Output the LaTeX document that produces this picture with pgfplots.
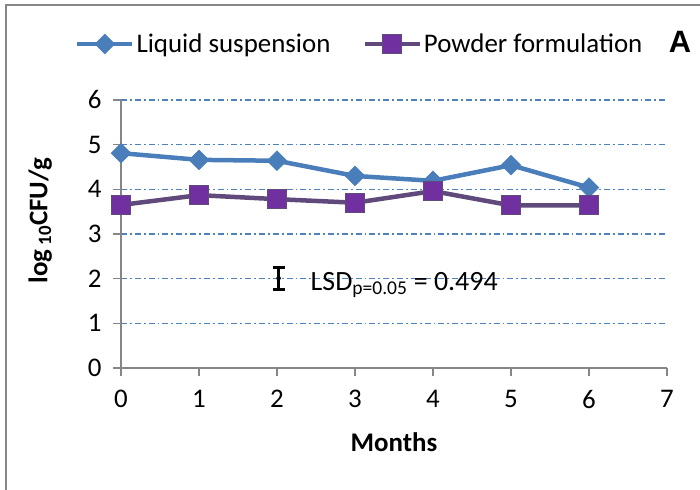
\documentclass[border=0pt]{standalone}
\usepackage{pgfplots}
\pgfplotsset{compat=1.18}
\usepackage{fontspec}
\setmainfont{Carlito}
\newfontfamily\arialfont{Liberation Sans}
\definecolor{lsblue}{HTML}{4A7EBB}
\definecolor{pwline}{HTML}{604A7B}
\definecolor{pwfill}{HTML}{7030A0}
\definecolor{axgray}{HTML}{868686}
\definecolor{gridblue}{HTML}{4F81BD}

\begin{document}
\begin{tikzpicture}
\useasboundingbox (-121bp,-122bp) rectangle (579bp,368bp);
\begin{axis}[
  scale only axis,
  width=546bp, height=268bp,
  xmin=0, xmax=7, ymin=0, ymax=6,
  xtick={0,...,7}, ytick={0,...,6},
  axis lines=left,
  axis line style={-, axgray, line width=1.5bp},
  tick style={axgray, line width=1.5bp},
  tick align=outside,
  major tick length=8bp,
  ymajorgrids,
  grid style={gridblue, line width=1.5bp, dash pattern=on 6bp off 3bp on 1.8bp off 3bp},
  /pgf/number format/assume math mode=true,
  ticklabel style={font=\fontsize{27}{30}\selectfont},
  xticklabel style={yshift=-11bp},
  yticklabel style={xshift=-8bp},
  xlabel={Months},
  ylabel={log\,\textsubscript{10}CFU/g},
  label style={font=\fontsize{27}{30}\selectfont\bfseries},
  xlabel style={at={(axis description cs:0.5,-0.31)}, anchor=base},
  ylabel style={at={(axis description cs:-0.148,0.55)}, anchor=center},
  clip=false,
  legend columns=2,
  legend style={draw=none, fill=none, font=\fontsize{27}{30}\selectfont,
    at={(axis description cs:-0.09,1.209)}, anchor=west,
    /tikz/every even column/.append style={column sep=30bp}},
  legend image code/.code={%
    \draw[mark repeat=2,mark phase=2] plot coordinates {(0bp,0bp) (27.5bp,0bp) (55bp,0bp)};},
]
\addplot[lsblue, line width=4.5bp, mark=square*, mark size=7bp,
  mark options={rotate=45, fill=lsblue, draw=lsblue, line width=0.5bp}]
  coordinates {(0,4.81) (1,4.66) (2,4.64) (3,4.30) (4,4.19) (5,4.54) (6,4.04)};
\addlegendentry{Liquid suspension}
\addplot[pwline, line width=4.5bp, mark=square*, mark size=9.5bp,
  mark options={fill=pwfill, draw=pwline, line width=1bp}]
  coordinates {(0,3.65) (1,3.87) (2,3.78) (3,3.70) (4,3.96) (5,3.64) (6,3.64)};
\addlegendentry{Powder formulation}
% LSD bar
\addplot[only marks, mark=none, forget plot,
  error bars/.cd, y dir=both, y explicit,
  error bar style={black, line width=3bp},
  error mark options={black, rotate=90, mark size=6bp, line width=3bp}]
  coordinates {(2.02,2.01) +- (0,0.247)};
\node[anchor=base west, font=\fontsize{28}{30}\selectfont, inner sep=0pt]
  at (axis cs:2.43,1.74) {LSD\textsubscript{p=0.05} = 0.494};
\end{axis}
\draw[axgray, line width=2bp] (-115bp,-122bp) -- (-115bp,363bp) -- (579bp,363bp);
\node[anchor=base, font=\fontsize{31}{34}\arialfont\bfseries, inner sep=0pt] at (559bp,315bp) {A};
\end{tikzpicture}
\end{document}
